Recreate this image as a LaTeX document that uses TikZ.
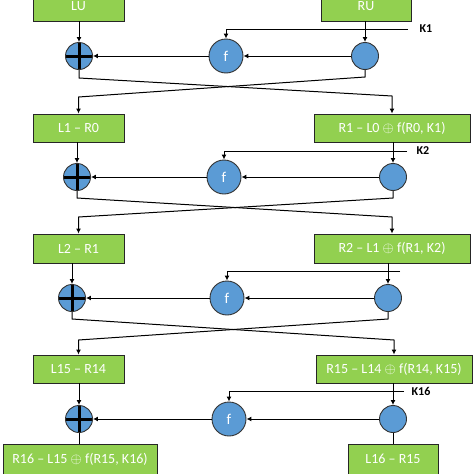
\documentclass[tikz,border=0pt]{standalone}
\usepackage{fontspec}
\setmainfont{Carlito}
\usetikzlibrary{arrows.meta}
\definecolor{boxgreen}{HTML}{92D050}
\definecolor{circblue}{HTML}{5B9BD5}
\begin{document}
\begin{tikzpicture}[x=1pt,y=-1pt]
\tikzset{
 box/.style={draw=black!85, line width=0.9pt, fill=boxgreen, text=white, font=\fontsize{14}{16}\selectfont, inner sep=0pt},
 boxtext/.style={text=white, font=\fontsize{14}{16}\selectfont, inner sep=0pt},
 fcirc/.style={circle, draw=black!80, line width=0.9pt, fill=circblue, text=white, minimum size=34pt, inner sep=0pt, font=\fontsize{15}{16}\selectfont},
 scirc/.style={circle, draw=black!80, line width=0.9pt, fill=circblue, minimum size=27pt, inner sep=0pt},
 xorc/.style={scirc, path picture={\draw[line width=3pt,black] (path picture bounding box.north) -- (path picture bounding box.south) (path picture bounding box.west) -- (path picture bounding box.east);}},
 conn/.style={line width=1pt, black},
 arr/.style={conn, -{Latex[length=5pt,width=5pt]}},
 klabel/.style={font=\fontsize{12}{14}\selectfont\bfseries, inner sep=0pt},
}
\useasboundingbox (0,0) rectangle (474,474);

% ---- boxes
\node[box, minimum width=91pt, minimum height=29pt] (LU) at (78.5,6.5) {LU};
\node[box, minimum width=90pt, minimum height=29pt] (RU) at (366,6.5) {RU};
\node[box, minimum width=91pt, minimum height=28pt] (L1) at (78.5,128) {L1 – R0};
\node[box, minimum width=156pt, minimum height=28pt] (R1) at (392,128) {R1 – L0 $\oplus$ f(R0, K1)};
\node[box, minimum width=91pt, minimum height=29pt] (L2) at (78.5,248.5) {L2 – R1};
\node[box, minimum width=156pt, minimum height=29pt] (R2) at (392,248.5) {R2 – L1 $\oplus$ f(R1, K2)};
\node[box, minimum width=91pt, minimum height=28pt] (L15) at (78.5,369) {L15 – R14};
\node[box, minimum width=156pt, minimum height=28pt] (R15) at (394,369) {R15 – L14 $\oplus$ f(R14, K15)};
\node[box, minimum width=154pt, minimum height=36pt, anchor=north] (R16) at (80,444) {};
\node[boxtext] (R16t) at (80,459) {R16 – L15 $\oplus$ f(R15, K16)};
\node[box, minimum width=90pt, minimum height=36pt, anchor=north] (L16) at (393,444) {};
\node[boxtext] (L16t) at (393,459) {L16 – R15};

% ---- circles
\node[xorc] (X1) at (79,56) {};
\node[fcirc] (F1) at (226,56) {f};
\node[scirc] (C1) at (365,56) {};
\node[xorc] (X2) at (77,177) {};
\node[fcirc] (F2) at (224,177) {f};
\node[scirc] (C2) at (393,177) {};
\node[xorc] (X3) at (72,298) {};
\node[fcirc] (F3) at (227,298) {f};
\node[scirc] (C3) at (388,298) {};
\node[xorc] (X4) at (79,419) {};
\node[fcirc] (F4) at (229,419) {f};
\node[scirc] (C4) at (393,419) {};

% ---- key labels / key line ends
\node[klabel] (K1) at (426,29) {K1};
\node[klabel] (K2) at (423,151) {K2};
\node[klabel] (K16) at (421,391) {K16};
\coordinate (k1) at (408,29);
\coordinate (k2) at (407,151);
\coordinate (k3) at (400,271);
\coordinate (k4) at (404,391);

% ---- key lines
\draw[arr] (k1) -- (k1 -| F1.north) -- (F1.north);
\draw[arr] (k2) -- (k2 -| F2.north) -- (F2.north);
\draw[arr] (k3) -- (k3 -| F3.north) -- (F3.north);
\draw[arr] (k4) -- (k4 -| F4.north) -- (F4.north);

% ---- vertical inputs
\draw[arr] (X1.north |- LU.south) -- (X1.north);
\draw[arr] (C1.north |- RU.south) -- (C1.north);
\draw[arr] (X2.north |- L1.south) -- (X2.north);
\draw[arr] (C2.north |- R1.south) -- (C2.north);
\draw[arr] (X3.north |- L2.south) -- (X3.north);
\draw[arr] (C3.north |- R2.south) -- (C3.north);
\draw[arr] (X4.north |- L15.south) -- (X4.north);
\draw[arr] (C4.north |- R15.south) -- (C4.north);

% ---- horizontal flow
\foreach \i in {1,2,3,4}{
  \draw[arr] (C\i.west) -- (F\i.east);
  \draw[arr] (F\i.west) -- (X\i.east);
}

% ---- crossings
\coordinate (a1) at (79,78);  \coordinate (b1) at (392,96);
\coordinate (c1) at (365,77); \coordinate (d1) at (78.5,97);
\draw[arr] (X1.south) -- (a1) -- (b1) -- (R1.north);
\draw[arr] (C1.south) -- (c1) -- (d1) -- (L1.north);

\coordinate (a2) at (77,198);  \coordinate (b2) at (392,217);
\coordinate (c2) at (393,198); \coordinate (d2) at (78.5,217);
\draw[arr] (X2.south) -- (a2) -- (b2) -- (R2.north);
\draw[arr] (C2.south) -- (c2) -- (d2) -- (L2.north);

\coordinate (a3) at (72,319);  \coordinate (b3) at (394,340);
\coordinate (c3) at (388,319); \coordinate (d3) at (78.5,340);
\draw[arr] (X3.south) -- (a3) -- (b3) -- (R15.north);
\draw[arr] (C3.south) -- (c3) -- (d3) -- (L15.north);

% ---- outputs
\draw[conn] (X4.south) -- (X4.south |- R16.north);
\draw[conn] (C4.south) -- (C4.south |- L16.north);
\end{tikzpicture}
\end{document}
